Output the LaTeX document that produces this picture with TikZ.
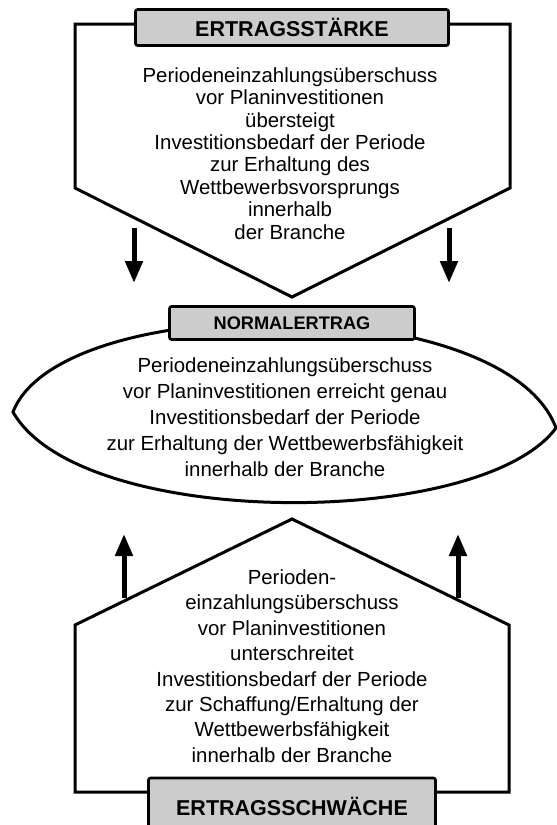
\documentclass[tikz,border=0pt]{standalone}
\usepackage{fontspec}
\setmainfont{Liberation Sans}
\usetikzlibrary{arrows.meta}
\begin{document}
\begin{tikzpicture}[x=1pt,y=-1pt,
  outline/.style={line width=3pt, line join=miter},
  tag/.style={draw, line width=2.6pt, fill=black!20, rounded corners=2pt,
    inner sep=0pt, font=\bfseries\fontsize{21.5}{24}\selectfont},
  bodytext/.style={align=center, inner sep=0pt},
  flow/.style={line width=5pt, -{Triangle[length=22pt 0 0,width=17pt 0 0]}}]
\useasboundingbox (0,0) rectangle (557,825);

% upper block: pentagon pointing down
\draw[outline] (75,24) -- (510,24) -- (510,188) -- (292,297) -- (75,188) -- cycle;
\node[tag, minimum width=313pt, minimum height=36pt] (strong) at (292,27.5) {ERTRAGSSTÄRKE};
\node[bodytext, font=\fontsize{20.4}{22.4}\selectfont] (strongtext) at (290,153.5)
  {Periodeneinzahlungsüberschuss\\vor Planinvestitionen\\übersteigt\\Investitionsbedarf der Periode\\zur Erhaltung des\\Wettbewerbsvorsprungs\\innerhalb\\der Branche};

% downward arrows
\coordinate (dl1) at (134,228); \coordinate (dl2) at (134,283);
\coordinate (dr1) at (449,228); \coordinate (dr2) at (449,283);
\draw[flow] (dl1) -- (dl2);
\draw[flow] (dr1) -- (dr2);

% middle block: pointed ellipse
\draw[outline] (13,412) .. controls (60,290) and (505,290) .. (556,428)
  .. controls (480,530) and (80,530) .. cycle;
\node[tag, minimum width=245pt, minimum height=33pt,
  font=\bfseries\fontsize{18.2}{20}\selectfont] (normal) at (292,323) {NORMALERTRAG};
\node[bodytext, font=\fontsize{20.4}{26}\selectfont] (normaltext) at (285,417)
  {Periodeneinzahlungsüberschuss\\vor Planinvestitionen erreicht genau\\Investitionsbedarf der Periode\\zur Erhaltung der Wettbewerbsfähigkeit\\innerhalb der Branche};

% upward arrows
\coordinate (ul1) at (124,598); \coordinate (ul2) at (124,534);
\coordinate (ur1) at (458,598); \coordinate (ur2) at (458,534);
\draw[flow] (ul1) -- (ul2);
\draw[flow] (ur1) -- (ur2);

% lower block: pentagon pointing up
\draw[outline] (75,792) -- (75,625) -- (292,519) -- (509,625) -- (509,792) -- cycle;
\node[bodytext, font=\fontsize{20.4}{25.4}\selectfont] (weaktext) at (292,666)
  {Perioden-\\einzahlungsüberschuss\\vor Planinvestitionen\\unterschreitet\\Investitionsbedarf der Periode\\zur Schaffung/Erhaltung der\\Wettbewerbsfähigkeit\\innerhalb der Branche};
\node[tag, minimum width=287pt, minimum height=56pt] (weak) at (292,806) {ERTRAGSSCHWÄCHE};
\end{tikzpicture}
\end{document}
